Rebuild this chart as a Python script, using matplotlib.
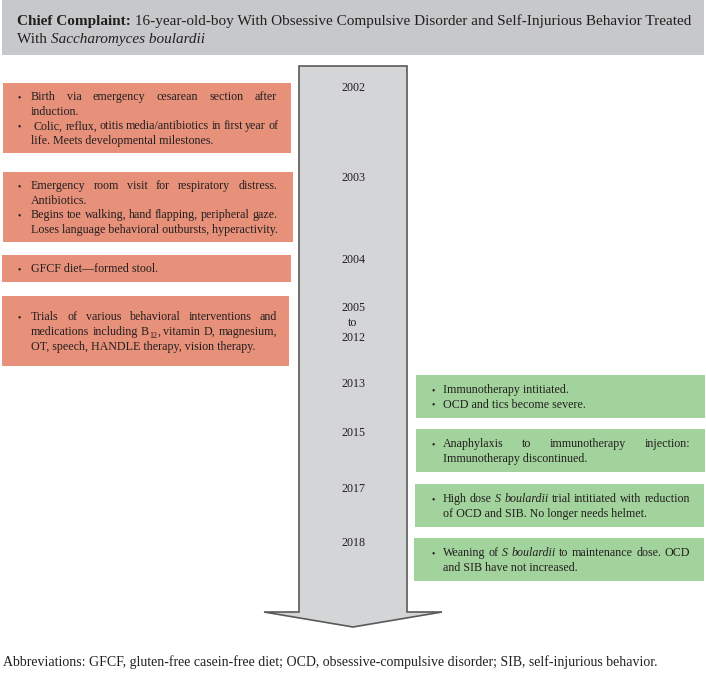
import re
import matplotlib
matplotlib.use("Agg")
import matplotlib.pyplot as plt
from matplotlib.patches import Rectangle, Polygon

# ---------------- data ----------------
title_lines = [
    "<b>Chief Complaint:</b> 16-year-old-boy With Obsessive Compulsive Disorder and Self-Injurious Behavior Treated",
    "With <i>Saccharomyces boulardii</i>",
]
years = ["2002", "2003", "2004", "2005\nto\n2012", "2013", "2015", "2017", "2018"]
left_events = [
    [["Birth via emergency cesarean section after", "induction."],
     [" Colic, reflux, otitis media/antibiotics in first year of", "life. Meets developmental milestones."]],
    [["Emergency room visit for respiratory distress.", "Antibiotics."],
     ["Begins toe walking, hand flapping, peripheral gaze.", "Loses language behavioral outbursts, hyperactivity."]],
    [["GFCF diet\u2014formed stool."]],
    [["Trials of various behavioral interventions and",
      "medications including B<sub>12</sub>, vitamin D, magnesium,",
      "OT, speech, HANDLE therapy, vision therapy."]],
]
right_events = [
    [["Immunotherapy intitiated."], ["OCD and tics become severe."]],
    [["Anaphylaxis to immunotherapy injection:", "Immunotherapy discontinued."]],
    [["High dose <i>S boulardii</i> trial intitiated with reduction", "of OCD and SIB. No longer needs helmet."]],
    [["Weaning of <i>S boulardii</i> to maintenance dose. OCD", "and SIB have not increased."]],
]
footnote = ("Abbreviations: GFCF, gluten-free casein-free diet; OCD, obsessive-compulsive "
            "disorder; SIB, self-injurious behavior.")

# ---------------- layout / style ----------------
W, H = 706, 674
FONT = "Liberation Serif"
TXT = "#231f20"
BODY = 8.65
TITLE = 10.95
FOOT = 10.0
LINE = 14.6
PX = 100 / 72

fig = plt.figure(figsize=(W / 100, H / 100), dpi=100)
ax = fig.add_axes([0, 0, 1, 1])
ax.set_xlim(0, W)
ax.set_ylim(H, 0)
ax.axis("off")
renderer = fig.canvas.get_renderer()


def parse(s):
    out = []
    style = "n"
    for tok in re.split(r"(</?[bi]>|</?sub>)", s):
        if tok in ("<b>", "<i>", "<sub>"):
            style = {"<b>": "b", "<i>": "i", "<sub>": "s"}[tok]
        elif tok in ("</b>", "</i>", "</sub>"):
            style = "n"
        else:
            out.extend((c, style) for c in tok)
    return out


def group(chars):
    runs = []
    for c, st in chars:
        if runs and runs[-1][1] == st:
            runs[-1] = (runs[-1][0] + c, st)
        else:
            runs.append((c, st))
    return runs


def words_of(s):
    chars = parse(s)
    words, cur = [], []
    for c, st in chars:
        if c == " ":
            if cur:
                words.append(group(cur))
                cur = []
        else:
            cur.append((c, st))
    if cur:
        words.append(group(cur))
    return words


def kw(st, size):
    d = dict(family=FONT, color=TXT, fontsize=size)
    if st == "b":
        d["fontweight"] = "bold"
    if st == "i":
        d["fontstyle"] = "italic"
    if st == "s":
        d["fontsize"] = size * 0.68
    return d


_cache = {}


def _raw(s, st, size):
    key = (s, st, size)
    if key not in _cache:
        t = ax.text(0, 0, s, **kw(st, size))
        _cache[key] = t.get_window_extent(renderer).width
        t.remove()
    return _cache[key]


def width(s, st, size):
    # advance width: measured between sentinels so spaces/bearings count
    return _raw("|" + s + "|", st, size) - _raw("||", st, size)


def put_runs(runs, x, base, size):
    for r, st in runs:
        dy = 0.25 * size * PX if st == "s" else 0
        ax.text(x, base + dy, r, va="baseline", ha="left", **kw(st, size))
        x += width(r, st, size)
    return x


def draw_line(s, x0, yc, size, right=None):
    base = yc + 0.33 * size * PX
    if right is None:
        put_runs(group(parse(s)), x0, base, size)
        return
    words = words_of(s)
    wws = [sum(width(r, st, size) for r, st in w) for w in words]
    sp = width(" ", "n", size)
    gap = (right - x0 - sum(wws)) / max(len(words) - 1, 1)
    gap = max(gap, 0.8 * sp)
    x = x0
    for w, ww in zip(words, wws):
        put_runs(w, x, base, size)
        x += ww + gap


def draw_box(box, items, color, bullet_x, text_x, right):
    x0, y0, x1, y1 = box
    ax.add_patch(Rectangle((x0, y0), x1 - x0, y1 - y0, facecolor=color, edgecolor="none"))
    n = sum(len(it) for it in items)
    yc = (y0 + y1) / 2 - (n - 1) * LINE / 2
    for it in items:
        for k, ln in enumerate(it):
            if k == 0:
                ax.text(bullet_x, yc + 0.33 * BODY * PX, "\u2022", va="baseline",
                        ha="left", family=FONT, color=TXT, fontsize=BODY * 0.8)
            xs = text_x + (3 if ln.startswith(" ") else 0)
            draw_line(ln.strip(), xs, yc, BODY, right if k < len(it) - 1 else None)
            yc += LINE


# title bar
ax.add_patch(Rectangle((2, 0), 702, 55, facecolor="#c7c8ca", edgecolor="none"))
draw_line(title_lines[0], 17, 20, TITLE)
draw_line(title_lines[1], 17, 37.5, TITLE)

# arrow
ax.add_patch(Polygon([(299, 66), (407, 66), (407, 612), (442, 612), (353, 627),
                      (264, 612), (299, 612)], closed=True,
                     facecolor="#d4d5d7", edgecolor="#5a5a5a", lw=1.2, joinstyle="miter"))

year_y = [88, 178, 260, 323, 384, 433, 489, 543]
for yr, yy in zip(years, year_y):
    ax.text(353, yy, yr, ha="center", va="center", family=FONT, color=TXT,
            fontsize=BODY, linespacing=1.35)

left_boxes = [(3, 83, 291, 153), (3, 172, 293, 242), (2, 255, 291, 282), (2, 296, 289, 366)]
for box, items in zip(left_boxes, left_events):
    draw_box(box, items, "#e8917a", 18, 31, 277)

right_boxes = [(416, 375, 705, 418), (416, 429, 705, 472), (415, 484, 704, 527), (414, 538, 704, 581)]
for box, items in zip(right_boxes, right_events):
    draw_box(box, items, "#a3d39c", 431, 443, 690)

draw_line(footnote, 3, 661, FOOT)

fig.savefig("out.png", dpi=100)
